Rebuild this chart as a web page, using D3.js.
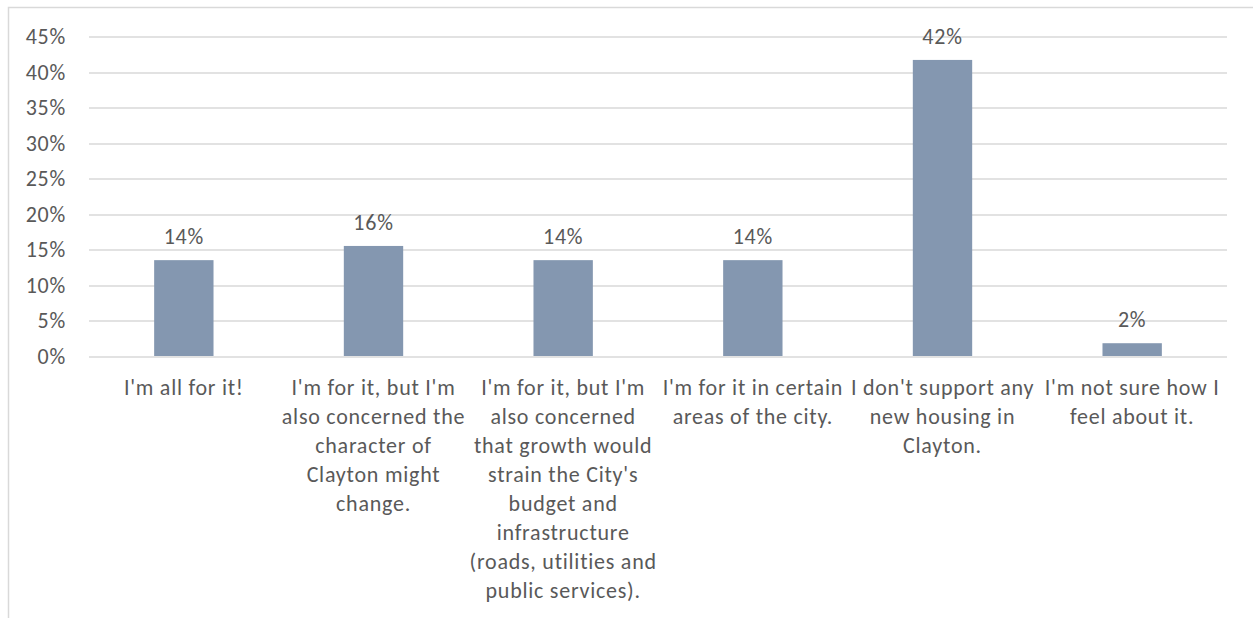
<!DOCTYPE html>
<html>
<head>
<meta charset="utf-8">
<script src="https://cdn.jsdelivr.net/npm/d3@7"></script>
<style>
  body { margin: 0; background: #fff; }
  svg text { font-family: Carlito, Calibri, Lato, "Open Sans", sans-serif; fill: #595959; letter-spacing: 0.75px; }
</style>
</head>
<body>
<div id="chart"></div>
<script>
"use strict";

// == DATA ==
var categories = [
  "I'm all for it!",
  "I'm for it, but I'm\nalso concerned the\ncharacter of\nClayton might\nchange.",
  "I'm for it, but I'm\nalso concerned\nthat growth would\nstrain the City's\nbudget and\ninfrastructure\n(roads, utilities and\npublic services).",
  "I'm for it in certain\nareas of the city.",
  "I don't support any\nnew housing in\nClayton.",
  "I'm not sure how I\nfeel about it."
];
var values = [13.5, 15.5, 13.5, 13.5, 41.7, 1.8];
var valueLabels = ["14%", "16%", "14%", "14%", "42%", "2%"];
var yTicks = [0, 5, 10, 15, 20, 25, 30, 35, 40, 45];

var W = 1253, H = 618;
var margin = { top: 36.5, right: 26, bottom: 262, left: 89 };
var width = W - margin.left - margin.right,
    height = H - margin.top - margin.bottom;
var fontSize = 22;

var root = d3.select("#chart")
  .append("svg")
  .attr("width", W)
  .attr("height", H);

// outer frame (only top and left edges are visible)
root.append("path")
  .attr("d", "M8.5," + H + "V7.5H" + W)
  .attr("fill", "none")
  .attr("stroke", "#d9d9d9")
  .attr("stroke-width", 1.5);

var svg = root.append("g")
  .attr("transform", "translate(" + margin.left + "," + margin.top + ")");

var x = d3.scaleBand()
  .domain(d3.range(categories.length))
  .range([0, width])
  .paddingInner(0.687)
  .paddingOuter(0.3435);

var y = d3.scaleLinear()
  .domain([0, 45])
  .range([height, 0]);

// gridlines
svg.append("g")
  .selectAll("line")
  .data(yTicks)
  .enter()
  .append("line")
  .attr("x1", 0)
  .attr("x2", width)
  .attr("y1", function (d) { return Math.round(y(d)) + 0.5; })
  .attr("y2", function (d) { return Math.round(y(d)) + 0.5; })
  .attr("stroke", "#d9d9d9")
  .attr("stroke-width", 1.3);

// y axis labels
var yAxis = d3.axisLeft(y)
  .tickValues(yTicks)
  .tickFormat(function (d) { return d + "%"; })
  .tickSize(0)
  .tickPadding(23);

svg.append("g")
  .call(yAxis)
  .call(function (g) { g.select(".domain").remove(); })
  .selectAll("text")
  .attr("font-size", fontSize)
  .attr("font-family", null);

// bars
svg.selectAll("rect.bar")
  .data(values)
  .enter()
  .append("rect")
  .attr("class", "bar")
  .attr("x", function (d, i) { return x(i); })
  .attr("width", x.bandwidth())
  .attr("y", function (d) { return y(d); })
  .attr("height", function (d) { return y(0) - y(d); })
  .attr("fill", "#8497b0");

// value labels
svg.selectAll("text.val")
  .data(values)
  .enter()
  .append("text")
  .attr("class", "val")
  .attr("x", function (d, i) { return x(i) + x.bandwidth() / 2; })
  .attr("y", function (d) { return y(d) - 16; })
  .attr("text-anchor", "middle")
  .attr("font-size", fontSize)
  .text(function (d, i) { return valueLabels[i]; });

// category labels
var cat = svg.append("g")
  .selectAll("text")
  .data(categories)
  .enter()
  .append("text")
  .attr("text-anchor", "middle")
  .attr("font-size", fontSize)
  .attr("transform", function (d, i) {
    return "translate(" + (x(i) + x.bandwidth() / 2) + "," + (height + 39) + ")";
  });

cat.selectAll("tspan")
  .data(function (d) { return d.split("\n"); })
  .enter()
  .append("tspan")
  .attr("x", 0)
  .attr("dy", function (d, i) { return i === 0 ? 0 : 29; })
  .text(function (d) { return d; });
</script>
</body>
</html>
